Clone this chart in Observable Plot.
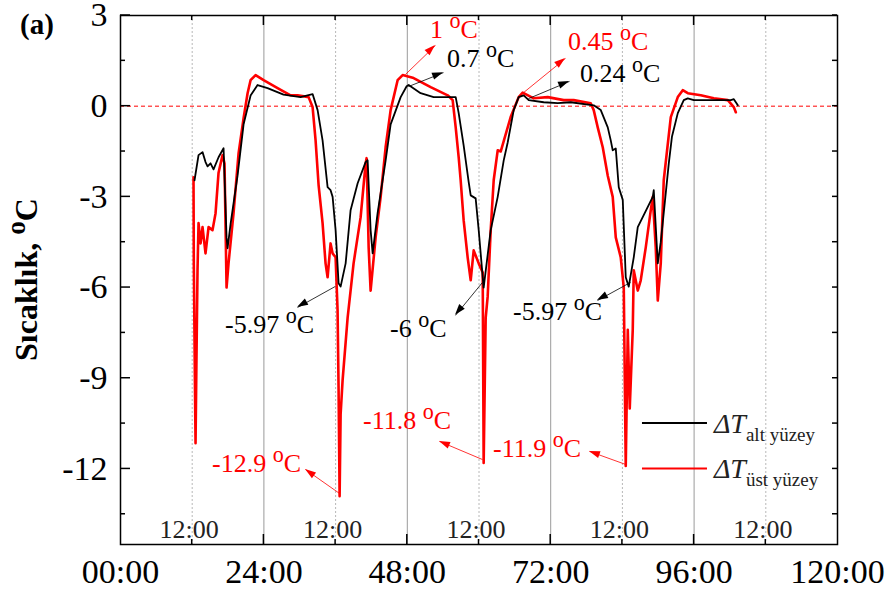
<!DOCTYPE html>
<html><head><meta charset="utf-8">
<script src="https://cdn.jsdelivr.net/npm/d3@7"></script>
<script src="https://cdn.jsdelivr.net/npm/@observablehq/plot@0.6"></script>
<style>
body{margin:0;background:#fff;}
#chart{width:890px;height:599px;}
</style></head><body><div id="chart"></div>
<script>
// ---- data (hours, °C) ----
const altYuzey = [[12.39,-2.45],[13.06,-1.62],[13.73,-1.52],[14.23,-1.85],[14.57,-1.99],[15.07,-1.89],[15.57,-2.09],[16.41,-1.69],[17.25,-1.39],[17.75,-4.34],[17.92,-4.7],[18.42,-3.9],[19.59,-2.3],[20.6,-0.6],[21.77,0.35],[22.94,0.7],[24.61,0.6],[27.29,0.38],[30.14,0.3],[32.15,0.4],[32.99,-0.13],[33.82,-1.13],[34.66,-2.68],[35.16,-2.78],[35.5,-3.0],[36.0,-4.1],[36.5,-5.86],[36.84,-5.97],[37.68,-5.2],[38.51,-3.44],[39.69,-2.55],[41.02,-1.85],[41.36,-1.79],[41.86,-4.1],[42.2,-4.87],[43.03,-3.54],[44.37,-1.8],[45.21,-0.6],[46.89,0.3],[47.89,0.66],[48.23,0.7],[50.23,0.43],[52.41,0.3],[55.26,0.3],[56.1,0.3],[56.6,-0.23],[57.43,-1.3],[58.27,-2.5],[58.61,-2.95],[59.44,-3.05],[59.95,-4.1],[60.62,-5.66],[60.78,-6.0],[61.96,-4.1],[63.13,-3.0],[64.13,-1.8],[64.8,-1.2],[65.81,-0.13],[66.64,0.3],[67.48,0.36],[68.32,0.2],[70.83,0.13],[73.18,0.1],[75.35,0.13],[79.2,0.03],[80.38,-0.13],[81.55,-0.7],[82.05,-1.13],[82.38,-1.46],[82.89,-1.4],[83.39,-2.68],[84.06,-3.1],[84.56,-5.66],[85.06,-5.97],[85.9,-5.0],[86.57,-4.0],[87.07,-3.8],[89.08,-3.0],[89.25,-2.78],[89.92,-5.2],[90.42,-4.5],[91.76,-1.9],[92.3,-1.0],[93.27,-0.23],[94.27,0.2],[94.94,0.26],[95.95,0.2],[98.79,0.2],[102.14,0.2],[102.65,0.23],[103.32,0.03]];
const ustYuzey = [[12.22,-2.35],[12.27,-5.2],[12.47,-9.4],[12.56,-11.15],[12.7,-8.6],[12.89,-5.43],[13.06,-3.87],[13.4,-4.54],[13.73,-4.0],[14.23,-4.87],[14.74,-4.0],[15.4,-4.1],[15.91,-3.54],[16.41,-2.2],[17.08,-1.62],[17.41,-1.9],[17.75,-6.0],[18.08,-5.2],[18.92,-3.54],[19.76,-1.56],[20.6,-0.4],[21.27,0.43],[21.77,0.86],[22.61,1.03],[23.95,0.86],[26.29,0.6],[28.47,0.36],[29.64,0.36],[31.48,0.3],[32.15,-0.03],[32.65,-1.13],[33.15,-2.6],[33.82,-3.87],[34.32,-5.2],[34.66,-5.66],[35.16,-4.54],[35.5,-4.87],[36.0,-5.0],[36.33,-6.75],[36.5,-9.4],[36.67,-12.9],[36.84,-10.2],[37.17,-9.07],[38.01,-7.0],[39.01,-5.2],[40.19,-3.67],[41.02,-1.9],[41.19,-1.72],[41.53,-4.67],[41.86,-6.1],[42.7,-4.34],[43.54,-3.0],[44.37,-1.36],[45.21,-0.13],[46.38,0.86],[47.22,1.03],[49.06,0.93],[51.91,0.63],[54.76,0.36],[55.59,0.2],[56.1,-0.7],[56.6,-1.69],[56.93,-2.45],[57.43,-3.77],[58.1,-5.0],[58.61,-5.76],[59.11,-4.77],[59.95,-5.2],[60.62,-5.5],[60.78,-11.8],[61.12,-7.0],[61.45,-6.3],[61.96,-4.1],[62.46,-2.45],[63.13,-1.46],[63.63,-1.5],[65.3,-0.36],[66.64,0.3],[67.31,0.45],[69.16,0.26],[71.5,0.3],[74.18,0.2],[75.85,0.2],[78.7,0.1],[79.2,-0.13],[79.87,-0.7],[80.71,-1.36],[81.55,-2.3],[82.38,-3.0],[82.89,-4.34],[83.72,-5.0],[84.23,-6.0],[84.56,-11.9],[84.9,-7.4],[85.23,-10.0],[85.73,-7.4],[85.9,-5.43],[86.57,-6.1],[87.07,-5.76],[87.91,-4.67],[88.75,-3.44],[89.08,-3.0],[89.58,-4.67],[89.92,-6.43],[90.42,-5.2],[90.92,-2.45],[92.1,-0.36],[93.27,0.3],[94.1,0.53],[94.94,0.43],[97.12,0.36],[99.3,0.26],[101.64,0.2],[102.65,-0.03],[102.98,-0.2]];

const seriesNames = ["alt yüzey", "üst yüzey"];
const majorX = [0, 24, 48, 72, 96, 120];
const xTickLabels = ["00:00", "24:00", "48:00", "72:00", "96:00", "120:00"];
const noonX = [12, 36, 60, 84, 108];
const noonLabel = "12:00";
const majorY = [3, 0, -3, -6, -9, -12];
const minorY = [1.5, -1.5, -4.5, -7.5, -10.5, -13.5];
const yTitle = "Sıcaklık,";
const panelLabel = "(a)";

// annotations: value text, colour, arrow from (fx,fy) to (tx,ty), label baseline-left at (lx,ly) — data units
const annotations = [
  {text: "1",     color: "red",   fx: 47.7,  fy: 1.05,   tx: 52.72, ty: 2.01,   lx: 51.88, ly: 2.24},
  {text: "0.7",   color: "black", fx: 48.2,  fy: 0.65,   tx: 54.06, ty: 1.11,   lx: 54.73, ly: 1.28},
  {text: "0.45",  color: "red",   fx: 67.28, fy: 0.42,   tx: 74.48, ty: 1.58,   lx: 74.98, ly: 1.84},
  {text: "0.24",  color: "black", fx: 68.28, fy: 0.25,   tx: 75.15, ty: 0.82,   lx: 76.99, ly: 0.78},
  {text: "-5.97", color: "black", fx: 35.98, fy: -5.96,  tx: 29.62, ty: -6.66,  lx: 17.57, ly: -7.52},
  {text: "-6",    color: "black", fx: 60.59, fy: -5.83,  tx: 56.07, ty: -6.92,  lx: 45.19, ly: -7.65},
  {text: "-5.97", color: "black", fx: 85.36, fy: -5.83,  tx: 79.83, ty: -6.43,  lx: 65.77, ly: -7.09},
  {text: "-12.9", color: "red",   fx: 36.65, fy: -12.81, tx: 30.96, ty: -12.02, lx: 15.4,  ly: -12.12},
  {text: "-11.8", color: "red",   fx: 60.59, fy: -11.69, tx: 53.39, ty: -11.09, lx: 40.67, ly: -10.70},
  {text: "-11.9", color: "red",   fx: 84.52, fy: -11.85, tx: 78.49, ty: -11.42, lx: 62.43, ly: -11.62}
];

// ---- drawing ----
const serif = "'Liberation Serif','Times New Roman',serif";
const X = d => d[0], Y = d => d[1];

function tickMarks(index, scales, values, dim) {
  const x = scales.x, y = scales.y;
  const L = dim.marginLeft, R = dim.width - dim.marginRight;
  const T = dim.marginTop, B = dim.height - dim.marginBottom;
  const g = d3.create("svg:g").attr("stroke", "black").attr("stroke-width", 1.5).attr("fill", "none");
  const seg = (x1, y1, x2, y2) => g.append("line").attr("x1", x1).attr("y1", y1).attr("x2", x2).attr("y2", y2);
  for (const v of majorY) { seg(L, y(v), L + 10, y(v)); seg(R - 5, y(v), R, y(v)); }
  for (const v of minorY) { seg(L, y(v), L + 5, y(v)); seg(R - 5, y(v), R, y(v)); }
  for (const v of majorX.slice(1, -1)) { seg(x(v), B, x(v), B - 10); seg(x(v), T, x(v), T + 10); }
  for (const v of noonX) { seg(x(v), B, x(v), B - 5); seg(x(v), T, x(v), T + 5); }
  return g.node();
}

function arrowHeads(index, scales) {
  const x = scales.x, y = scales.y;
  const g = d3.create("svg:g");
  for (const a of annotations) {
    const x1 = x(a.fx), y1 = y(a.fy), x2 = x(a.tx), y2 = y(a.ty);
    const ang = Math.atan2(y2 - y1, x2 - x1);
    const Lh = 11, W = 3.6;
    const bx = x2 - Lh * Math.cos(ang), by = y2 - Lh * Math.sin(ang);
    const pts = [[x2, y2], [bx - W * Math.sin(ang), by + W * Math.cos(ang)], [bx + W * Math.sin(ang), by - W * Math.cos(ang)]];
    g.append("polygon").attr("fill", a.color).attr("points", pts.map(p => p.join(",")).join(" "));
  }
  return g.node();
}

function degText(sel, value, size) {
  sel.append("tspan").text(value + " ");
  sel.append("tspan").attr("font-size", size * 0.85).attr("dy", -size * 0.38).text("o");
  sel.append("tspan").attr("font-size", size).attr("dy", size * 0.38).text("C");
}

function annotationTexts(index, scales) {
  const x = scales.x, y = scales.y;
  const g = d3.create("svg:g").attr("font-family", serif).attr("font-size", 26).attr("text-anchor", "start");
  for (const a of annotations) {
    const t = g.append("text").attr("x", x(a.lx)).attr("y", y(a.ly)).attr("fill", a.color);
    degText(t, a.text, 26);
  }
  return g.node();
}

function legend(index, scales) {
  const x = scales.x, y = scales.y;
  const g = d3.create("svg:g").attr("font-family", serif).attr("text-anchor", "start");
  const rows = [{name: seriesNames[0], color: "black", yv: -10.5}, {name: seriesNames[1], color: "red", yv: -12}];
  for (const r of rows) {
    const yy = y(r.yv);
    g.append("line").attr("x1", x(87.36)).attr("x2", x(98.24)).attr("y1", yy).attr("y2", yy)
      .attr("stroke", r.color).attr("stroke-width", 2);
    const t = g.append("text").attr("x", x(99.4)).attr("y", yy + 10).attr("fill", "#222").attr("font-size", 28);
    t.append("tspan").attr("font-style", "italic").text("ΔT");
    t.append("tspan").attr("font-size", 19).attr("dy", 8).text(r.name);
  }
  return g.node();
}

function titles(index, scales, values, dim) {
  const g = d3.create("svg:g").attr("font-family", serif).attr("font-weight", "bold");
  const cy = (dim.marginTop + dim.height - dim.marginBottom) / 2;
  const t = g.append("text").attr("transform", `translate(37,${cy}) rotate(-90)`)
    .attr("text-anchor", "middle").attr("font-size", 32);
  degText(t, yTitle, 32);
  g.append("text").attr("x", 20).attr("y", 34).attr("text-anchor", "start").attr("font-size", 29).text(panelLabel);
  return g.node();
}

const chart = Plot.plot({
  width: 890, height: 599,
  marginLeft: 120, marginRight: 53, marginTop: 15, marginBottom: 55,
  x: {domain: [0, 120]},
  y: {domain: [-14.5, 3]},
  style: {fontFamily: serif, fontSize: "34px", color: "#000", background: "#fff", overflow: "visible"},
  marks: [
    Plot.ruleX(noonX, {stroke: "#b8b8b8", strokeDasharray: "2,2", strokeWidth: 1}),
    Plot.ruleX(majorX.slice(1, -1), {stroke: "#9a9a9a", strokeWidth: 1}),
    Plot.ruleY([0], {stroke: "red", strokeDasharray: "4,3", strokeWidth: 1}),
    Plot.line(ustYuzey, {x: X, y: Y, stroke: "red", strokeWidth: 2.6}),
    Plot.line(altYuzey, {x: X, y: Y, stroke: "black", strokeWidth: 1.8}),
    Plot.link(annotations.filter(a => a.color === "red"), {x1: "fx", y1: "fy", x2: "tx", y2: "ty", stroke: "red", strokeWidth: 0.8}),
    Plot.link(annotations.filter(a => a.color === "black"), {x1: "fx", y1: "fy", x2: "tx", y2: "ty", stroke: "black", strokeWidth: 0.8}),
    arrowHeads,
    Plot.axisX(majorX, {tickSize: 0, tickPadding: 14, fontSize: 34, label: null, tickFormat: d => xTickLabels[majorX.indexOf(d)]}),
    Plot.axisY(majorY, {tickSize: 0, tickPadding: 13, fontSize: 34, label: null, tickFormat: d => String(d)}),
    Plot.text(noonX, {x: d => d, y: -14.5, text: () => noonLabel, dy: -15, dx: -3, fontSize: 26, fill: "#222"}),
    tickMarks,
    Plot.frame({stroke: "black", strokeWidth: 1.5}),
    annotationTexts,
    legend,
    titles
  ]
});
document.getElementById("chart").appendChild(chart);
</script>
</body></html>
